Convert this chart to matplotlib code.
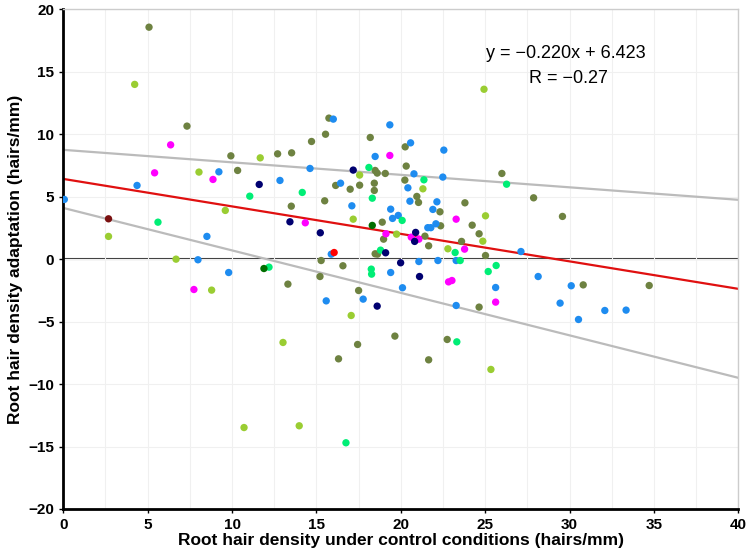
#!/usr/bin/env python3
# -*- coding: utf-8 -*-
"""
Scatter plot of root hair density adaptation vs. density under control.
"""

import matplotlib
matplotlib.use('Agg')
import matplotlib.pyplot
import numpy as np

# (control density, adaptation) per accession group
olive = [(5.08, 18.57), (7.33, 10.65), (9.93, 8.27), (10.33, 7.1), (13.31, -2.0),
         (12.7, 8.43), (13.53, 8.51), (13.51, 4.24), (15.74, 11.29), (15.54, 10.0),
         (14.71, 9.42), (18.19, 9.74), (20.26, 8.99), (18.48, 7.1), (18.6, 6.89),
         (19.08, 6.86), (20.32, 7.45), (20.24, 6.33), (20.95, 5.02), (21.05, 4.54),
         (16.14, 5.9), (17.0, 5.6), (17.56, 5.92), (18.43, 6.08), (18.43, 5.5),
         (15.49, 4.67), (18.9, 2.96), (18.98, 1.6), (21.43, 1.84), (21.65, 1.07),
         (18.48, 0.43), (18.62, 0.4), (15.28, -0.11), (16.57, -0.53), (15.21, -1.39),
         (17.5, -2.51), (25.99, 6.86), (27.87, 4.91), (29.58, 3.42), (22.32, 3.79),
         (23.8, 4.51), (22.36, 2.67), (24.23, 2.72), (24.64, 2.03), (23.6, 1.42),
         (25.02, 0.29), (24.64, -3.84), (30.81, -2.06), (34.72, -2.11), (19.65, -6.16),
         (17.44, -6.83), (22.75, -6.43), (16.31, -7.98), (21.65, -8.06)]
blue = [(0.06, 4.78), (4.37, 5.9), (7.98, -0.05), (8.51, 1.82), (9.22, 6.99),
        (9.8, -1.07), (12.84, 6.3), (16.0, 11.21), (19.35, 10.75), (18.48, 8.22),
        (20.58, 9.31), (14.62, 7.26), (20.78, 6.83), (20.42, 5.71), (20.54, 4.64),
        (16.43, 6.08), (17.1, 4.27), (19.4, 4.0), (19.51, 3.26), (19.85, 3.5),
        (21.9, 3.98), (21.6, 2.52), (21.78, 2.52), (15.88, 0.4), (21.07, -0.19),
        (19.4, -1.07), (20.1, -2.29), (15.58, -3.34), (17.77, -3.2), (22.55, 8.73),
        (22.49, 6.57), (22.14, 4.59), (22.08, 2.83), (27.12, 0.61), (22.2, -0.11),
        (23.28, -0.11), (28.14, -1.39), (30.1, -2.13), (25.62, -2.27), (23.28, -3.71),
        (29.44, -3.52), (30.53, -4.83), (32.09, -4.11), (33.35, -4.08)]
yellowgreen = [(2.68, 1.82), (4.23, 13.99), (6.68, 0.0), (8.04, 6.97), (9.6, 3.9),
               (8.79, -2.48), (13.02, -6.67), (10.71, -13.48), (13.98, -13.34),
               (11.67, 8.11), (17.56, 6.73), (21.31, 5.63), (17.18, 3.2), (19.75, 2.0),
               (25.02, 3.47), (24.86, 1.44), (22.79, 0.83), (17.06, -4.51),
               (25.34, -8.83), (24.93, 13.6)]
springgreen = [(5.61, 2.96), (11.05, 5.04), (12.19, -0.64), (16.75, -14.7),
               (18.11, 7.34), (21.37, 6.35), (14.16, 5.34), (18.31, 4.88), (20.08, 3.1),
               (18.8, 0.72), (18.25, -0.8), (18.27, -1.2), (26.27, 6.0), (23.22, 0.53),
               (23.52, -0.11), (25.65, -0.51), (25.18, -0.99), (23.32, -6.62)]
magenta = [(5.41, 6.91), (6.36, 9.15), (8.87, 6.38), (7.74, -2.43), (19.35, 8.3),
           (14.34, 2.91), (19.12, 2.03), (20.62, 1.76), (21.07, 1.6), (23.28, 3.2),
           (23.78, 0.8), (22.83, -1.82), (23.03, -1.71), (25.62, -3.44)]
navy = [(11.61, 5.98), (13.43, 2.99), (17.18, 7.13), (15.23, 2.11), (20.88, 2.14),
        (20.82, 1.42), (19.1, 0.51), (19.99, -0.29), (21.11, -1.39), (18.6, -3.76)]
darkgreen = [(11.89, -0.75), (18.31, 2.7)]
red = [(16.05, 0.53)]
maroon = [(2.68, 3.23)]

groups = [(olive, '#6e8241'), (blue, '#1e8cf0'), (yellowgreen, '#9acd32'),
          (springgreen, '#00ee76'), (magenta, '#ff00ff'), (navy, '#000070'),
          (darkgreen, '#006e00'), (red, '#ff0000'), (maroon, '#7a1010')]

# fitted line and the two grey bounding lines: (slope, intercept)
fit = (-0.220, 6.423)
upper = (-0.100, 8.75)
lower = (-0.340, 4.10)
r_value = -0.27

x_ticks = [0, 5, 10, 15, 20, 25, 30, 35, 40]
y_ticks = [-20, -15, -10, -5, 0, 5, 10, 15, 20]


def scatterplot(file_out):
    """
    Draws the scatter plot with the regression lines
    """
    matplotlib.pyplot.rcParams['font.family'] = ['Liberation Sans', 'DejaVu Sans']
    figure = matplotlib.pyplot.figure(figsize=(7.50, 5.48), dpi=100)
    axes = figure.add_axes([0.0844, 0.0712, 0.9, 0.9118])

    axes.set_xlim(0, 40)
    axes.set_ylim(-20, 20)
    axes.set_xticks(x_ticks)
    axes.set_yticks(y_ticks)
    axes.set_xticks(np.arange(0, 40.1, 2.5), minor=True)
    axes.grid(True, which='both', color='#f0f0f0', linewidth=0.8, zorder=0)
    axes.tick_params(which='minor', length=0)
    axes.tick_params(which='major', length=3, width=1, direction='out')
    for label in axes.get_xticklabels() + axes.get_yticklabels():
        label.set_fontweight('bold')
        label.set_fontsize(11)

    for side in ['left', 'bottom']:
        axes.spines[side].set_linewidth(2)
        axes.spines[side].set_color('black')
    for side in ['top', 'right']:
        axes.spines[side].set_linewidth(1)
        axes.spines[side].set_color('#cccccc')

    axes.axhline(0, color='#3a3a3a', linewidth=1.5, zorder=1)

    xs = np.array([0, 40])
    for slope, intercept in [upper, lower]:
        axes.plot(xs, slope * xs + intercept, color='#bbbbbb', linewidth=1.6, zorder=2)
    axes.plot(xs, fit[0] * xs + fit[1], color='#e01010', linewidth=1.6, zorder=2)

    for points, colour in groups:
        data = np.array(points)
        axes.scatter(data[:, 0], data[:, 1], s=28, color=colour,
                     edgecolors='none', zorder=3)

    axes.text(0.745, 0.912, 'y = \u22120.220x + 6.423', transform=axes.transAxes,
              ha='center', va='center', fontsize=13)
    axes.text(0.748, 0.862, 'R = \u2212%.2f' % abs(r_value), transform=axes.transAxes,
              ha='center', va='center', fontsize=13)

    axes.set_xlabel('Root hair density under control conditions (hairs/mm)',
                    fontsize=12.5, fontweight='bold', labelpad=1)
    axes.set_ylabel('Root hair density adaptation (hairs/mm)',
                    fontsize=12.5, fontweight='bold', labelpad=4)
    figure.savefig(file_out)
    matplotlib.pyplot.close()


if __name__ == '__main__':
    scatterplot('out.png')
